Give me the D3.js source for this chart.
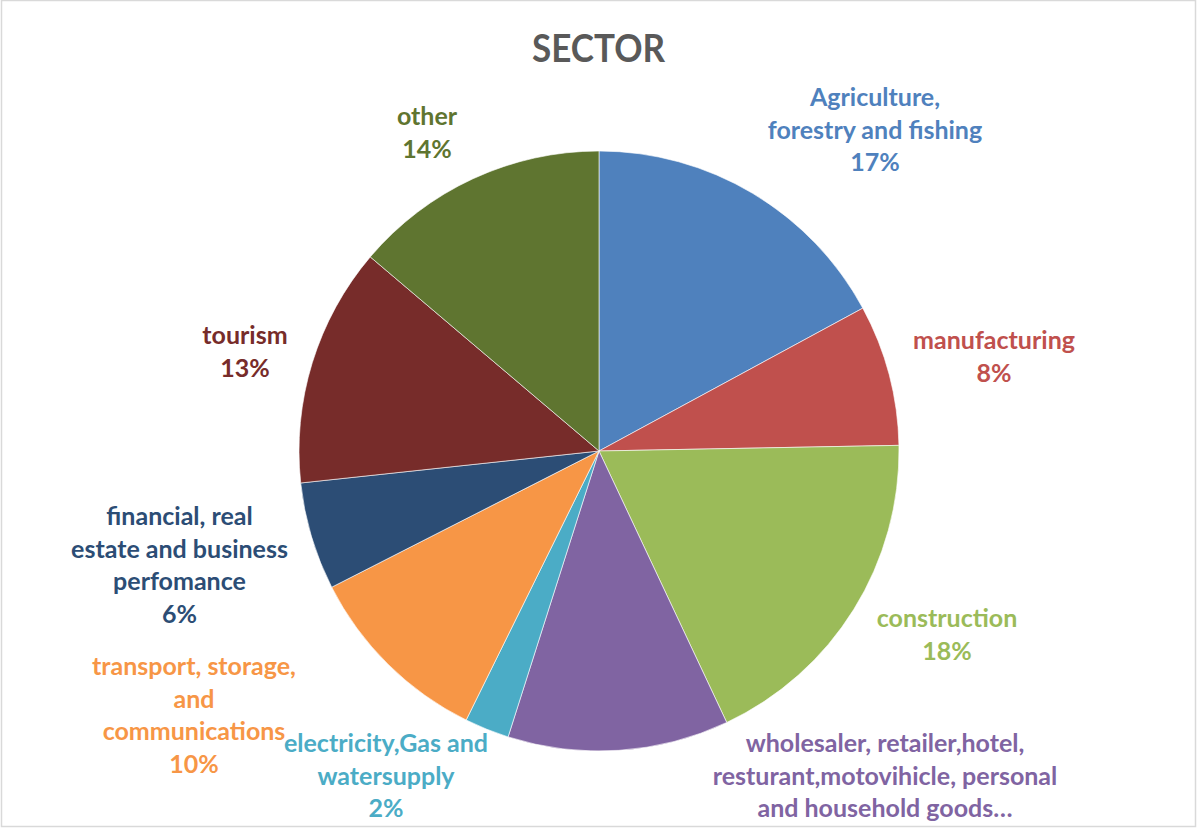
<!DOCTYPE html>
<html>
<head>
<meta charset="utf-8">
<script src="https://cdn.jsdelivr.net/npm/d3@7/dist/d3.min.js"></script>
<style>
  html, body { margin: 0; padding: 0; background: #fff; }
  svg { display: block; }
  text { font-family: Lato, "Open Sans", sans-serif; font-weight: bold; }
</style>
</head>
<body>
<svg id="chart" width="1197" height="828"></svg>
<script>
// Sector shares (percent of total)
const sectors = [
  "Agriculture, forestry and fishing",
  "manufacturing",
  "construction",
  "wholesaler, retailer,hotel, resturant,motovihicle, personal and household goods",
  "electricity,Gas and watersupply",
  "transport, storage, and communications",
  "financial, real estate and business perfomance",
  "tourism",
  "other"
];
const shares = [17.1, 7.6, 18.3, 11.9, 2.4, 10.2, 5.8, 12.9, 13.8];

// Label text lines as wrapped in the chart (percent line appended unless truncated)
const labelLines = [
  ["Agriculture,", "forestry and fishing"],
  ["manufacturing"],
  ["construction"],
  ["wholesaler, retailer,hotel,", "resturant,motovihicle, personal", "and household goods…"],
  ["electricity,Gas and", "watersupply"],
  ["transport, storage,", "and", "communications"],
  ["financial, real", "estate and business", "perfomance"],
  ["tourism"],
  ["other"]
];
const showPercent = [true, true, true, false, true, true, true, true, true];

const colors = ["#4F81BD", "#C0504D", "#9BBB59", "#8064A2", "#4BACC6",
                "#F79646", "#2C4D75", "#772C2A", "#5F7530"];

// Label block placement: centre x and first baseline y
const labelPos = [
  [875, 106], [994, 349], [947, 627], [885, 752], [386, 752],
  [194, 675], [179.5, 525], [245, 344], [427, 125]
];

const W = 1197, H = 828;
const cx = 599, cy = 451, R = 300;
const lineH = 32.7;

const svg = d3.select("#chart");

// Chart area frame
svg.append("rect")
  .attr("x", 1.5).attr("y", 0.5)
  .attr("width", 1194).attr("height", 826)
  .attr("fill", "#fff")
  .attr("stroke", "#d9d9d9")
  .attr("stroke-width", 1.5);

// Title
svg.append("text")
  .attr("x", 598.5).attr("y", 62)
  .attr("text-anchor", "middle")
  .attr("font-size", 39)
  .attr("fill", "#595959")
  .attr("textLength", 133)
  .attr("lengthAdjust", "spacingAndGlyphs")
  .text("SECTOR");

const data = sectors.map((s, i) => ({ sector: s, value: shares[i], i }));
const total = d3.sum(shares);

const pie = d3.pie().sort(null).value(d => d.value);
const arc = d3.arc().innerRadius(0).outerRadius(R);
const arcs = pie(data);

const g = svg.append("g").attr("transform", `translate(${cx},${cy})`);
g.selectAll("path")
  .data(arcs)
  .join("path")
  .attr("d", arc)
  .attr("fill", d => colors[d.data.i])
  .attr("stroke", "#fff")
  .attr("stroke-width", 0.6);

// Data labels
const fmt = d3.format(".0%");
const labels = svg.append("g");
arcs.forEach(a => {
  const i = a.data.i;
  const lines = labelLines[i].slice();
  if (showPercent[i]) lines.push(fmt(a.data.value / total));
  const t = labels.append("text")
    .attr("text-anchor", "middle")
    .attr("font-size", 25)
    .attr("fill", colors[i]);
  lines.forEach((ln, k) => {
    t.append("tspan")
      .attr("x", labelPos[i][0])
      .attr("y", labelPos[i][1] + k * lineH)
      .text(ln);
  });
});
</script>
</body>
</html>
